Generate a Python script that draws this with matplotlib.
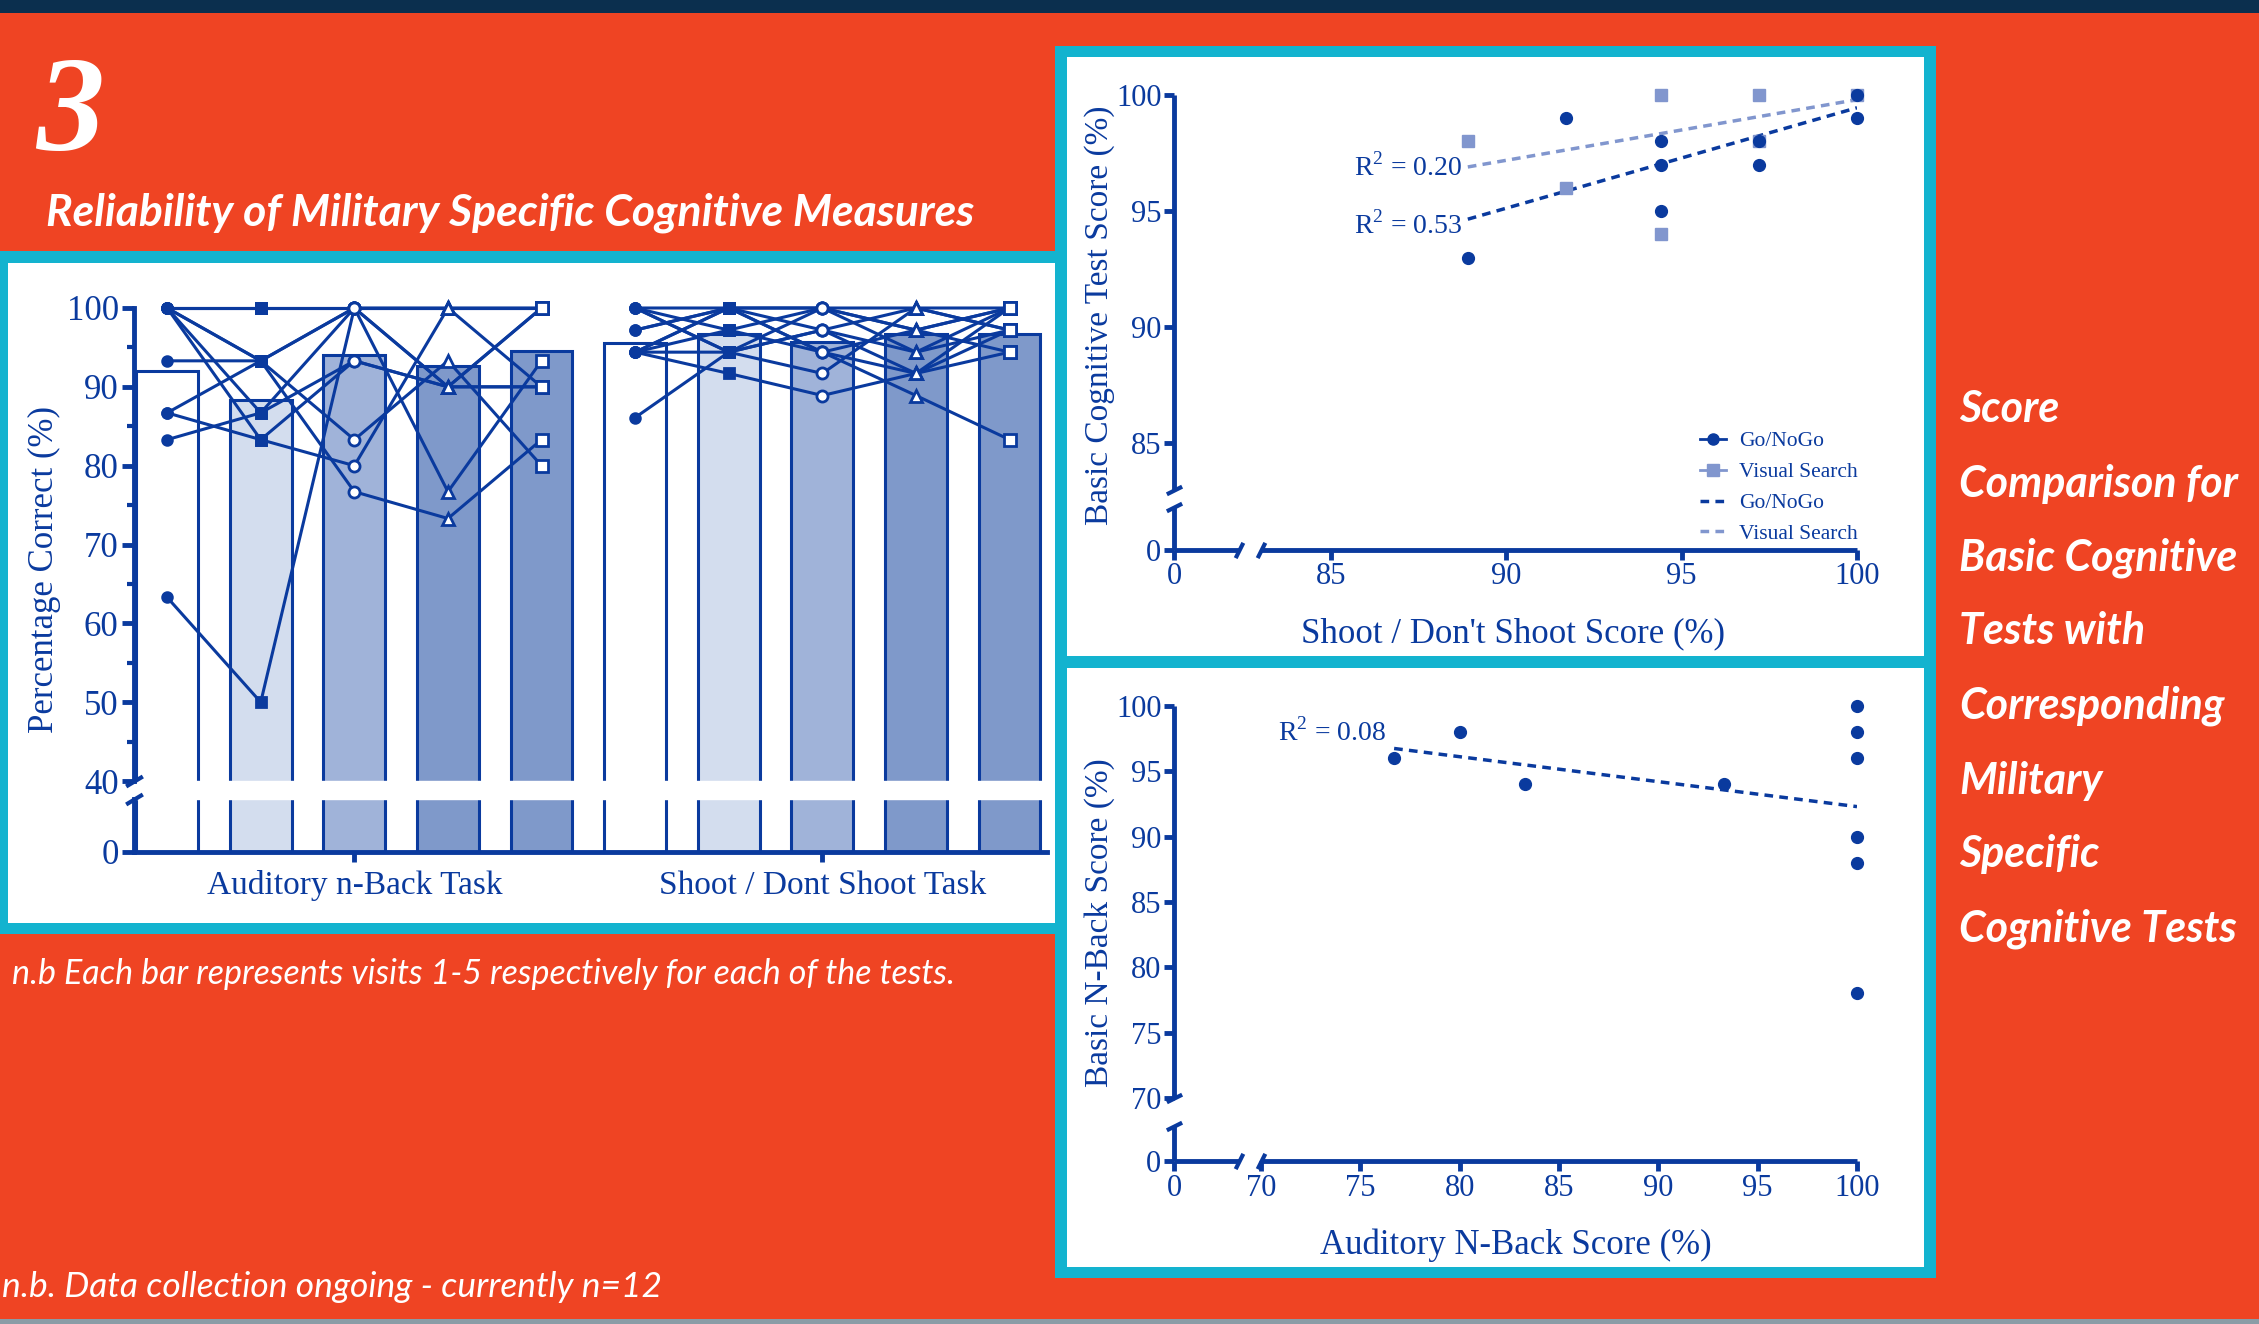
import numpy as np
import matplotlib
matplotlib.use("Agg")
import matplotlib.pyplot as plt
from matplotlib.patches import Rectangle
from matplotlib.lines import Line2D

visit_names = ["Visit 1", "Visit 2", "Visit 3", "Visit 4", "Visit 5"]
task_labels = ["Auditory n-Back Task", "Shoot / Dont Shoot Task"]

# bar heights (mean % correct per visit)
aud_means = [92.0, 88.3, 94.1, 92.7, 94.5]
shoot_means = [95.6, 96.7, 95.7, 96.7, 96.7]

# individual participants, visits 1-5
aud_scores = [
    [100, 100, 100, 100, 100],
    [100, 100, 100, 100, 100],
    [100, 93.3, 100, 90, 90],
    [100, 93.3, 83.3, 93.3, 80],
    [100, 86.7, 100, 90, 100],
    [100, 83.3, 93.3, 90, 90],
    [93.3, 93.3, 76.7, 73.3, 83.3],
    [86.7, 93.3, 100, 100, 90],
    [86.7, 83.3, 80, 100, 100],
    [83.3, 86.7, 93.3, 90, 100],
    [63.3, 50, 100, 76.7, 93.3],
    [100, 100, 100, 100, 100],
]
shoot_scores = [
    [100, 94.4, 100, 97.2, 100],
    [97.2, 100, 100, 100, 97.2],
    [94.4, 100, 94.4, 91.7, 97.2],
    [94.4, 91.7, 88.9, 91.7, 94.4],
    [86.1, 94.4, 97.2, 100, 100],
    [100, 97.2, 94.4, 88.9, 83.3],
    [94.4, 94.4, 91.7, 100, 97.2],
    [97.2, 100, 97.2, 94.4, 100],
    [100, 100, 100, 97.2, 94.4],
    [94.4, 97.2, 100, 94.4, 97.2],
    [100, 94.4, 97.2, 91.7, 100],
    [94.4, 100, 94.4, 97.2, 100],
]

# shoot / don't shoot vs basic tests
gng_x = [88.9, 91.7, 94.4, 94.4, 94.4, 97.2, 97.2, 100, 100]
gng_y = [93, 99, 98, 97, 95, 98, 97, 100, 99]
vs_x = [88.9, 91.7, 94.4, 94.4, 97.2, 97.2, 100]
vs_y = [98, 96, 100, 94, 100, 98, 100]
fit_x = [88.9, 100]
gng_fit = [94.65, 99.45]
vs_fit = [96.9, 99.8]
gng_r2 = "R$^{2}$ = 0.53"
vs_r2 = "R$^{2}$ = 0.20"

# auditory n-back vs basic n-back
nb_x = [76.7, 80, 83.3, 93.3, 100, 100, 100, 100, 100, 100]
nb_y = [96, 98, 94, 94, 100, 98, 96, 90, 88, 78]
nb_fit_x = [76.7, 100]
nb_fit = [96.75, 92.3]
nb_r2 = "R$^{2}$ = 0.08"

right_lines = ["Score", "Comparison for", "Basic Cognitive", "Tests with",
               "Corresponding", "Military", "Specific", "Cognitive Tests"]

# ---- style ----
ORANGE = "#ef4423"
NAVY = "#0b2f4e"
CYAN = "#13b3cf"
BLUE = "#0a3a9e"
LIGHT = "#8196ce"
bar_colors = ["white", "#d3ddee", "#a0b3d9", "#7f99ca", "#7f99ca"]
visit_markers = ["o", "s", "o", "^", "s"]
visit_filled = [True, True, False, False, False]
visit_ms = [7, 7.5, 8, 8.5, 8]

plt.rcParams["font.family"] = "Liberation Serif"
plt.rcParams["mathtext.fontset"] = "custom"
plt.rcParams["mathtext.rm"] = "Liberation Serif"
W, H = 2259, 1324
fig = plt.figure(figsize=(W / 100, H / 100), dpi=100)
fig.patch.set_facecolor(ORANGE)


def frac(x0, y0, x1, y1):
    return [x0 / W, 1 - y1 / H, (x1 - x0) / W, (y1 - y0) / H]


def box(x0, y0, x1, y1, color, z):
    l, b, w, h = frac(x0, y0, x1, y1)
    fig.add_artist(Rectangle((l, b), w, h, transform=fig.transFigure,
                             facecolor=color, edgecolor="none", zorder=z))


def broken(xp, fp):
    xp = np.asarray(xp, float)
    fp = np.asarray(fp, float)
    return (lambda v: np.interp(v, xp, fp)), (lambda v: np.interp(v, fp, xp))


# background blocks
box(0, 0, W, 13, NAVY, -10)
box(0, 1319, W, H, "#8a9ca6", -10)
box(0, 251, 1060, 934, CYAN, -9)
box(8, 263, 1055, 923, "white", -8)
box(1055, 46, 1936, 1278, CYAN, -9)
box(1067, 57, 1924, 656, "white", -8)
box(1067, 668, 1924, 1267, "white", -8)

# ---- left: bars + individual lines ----
ax = fig.add_axes(frac(134, 308, 1047, 852))
ax.set_facecolor("none")
fy, iy = broken([0, 1, 40, 100], [0, 6.72, 9.0, 69.0])
ax.set_yscale("function", functions=(fy, iy))
ax.set_ylim(0, 100)
ax.set_xlim(-0.354, 9.4)

pos_a = np.arange(5)
pos_s = np.arange(5, 10)
for pos, means, scores in [(pos_a, aud_means, aud_scores), (pos_s, shoot_means, shoot_scores)]:
    ax.bar(pos, means, width=0.66, color=bar_colors, edgecolor=BLUE, linewidth=2.2, zorder=2)
    for s in scores:
        ax.plot(pos, s, color=BLUE, lw=2.2, zorder=4, clip_on=False)
    for i in range(5):
        vals = [s[i] for s in scores]
        ax.plot([pos[i]] * len(vals), vals, ls="none", marker=visit_markers[i],
                ms=visit_ms[i], mfc=BLUE if visit_filled[i] else "white",
                mec=BLUE, mew=2, zorder=5, clip_on=False)

ax.axhspan(1, 40, color="white", zorder=3)
for sp in ["left", "top", "right"]:
    ax.spines[sp].set_visible(False)
ax.spines["bottom"].set_color(BLUE)
ax.spines["bottom"].set_linewidth(3.5)
yt = ax.get_yaxis_transform()
for seg in ([0, 1], [40, 100]):
    ax.plot([0, 0], seg, transform=yt, color=BLUE, lw=3.5, clip_on=False, zorder=6)
ax.plot([0, 0], [1, 40], transform=yt, ls="none", marker=[(-1, -0.6), (1, 0.6)],
        ms=12, mec=BLUE, mew=3, clip_on=False, zorder=7)
ax.set_yticks([0, 40, 50, 60, 70, 80, 90, 100])
ax.set_yticks([45, 55, 65, 75, 85, 95], minor=True)
ax.set_xticks([2, 7], task_labels)
ax.tick_params(axis="y", which="major", length=9, width=3.5, color=BLUE,
               labelcolor=BLUE, labelsize=25, pad=2)
ax.tick_params(axis="y", which="minor", length=5, width=3, color=BLUE)
ax.tick_params(axis="x", length=7, width=3.5, color=BLUE, labelcolor=BLUE,
               labelsize=24, pad=6)
ax.set_ylabel("Percentage Correct (%)", color=BLUE, fontsize=25)
ax.yaxis.set_label_coords(-0.08, 0.52)


# ---- right: scatter panels ----
def scatter_axes(rect, xbreak, ybreak, xmap, ymap, xticks, yticks):
    a = fig.add_axes(frac(*rect))
    a.set_facecolor("none")
    a.set_xscale("function", functions=broken([0, 1, xbreak, 100], xmap))
    a.set_yscale("function", functions=broken([0, 1, ybreak, 100], ymap))
    a.set_xlim(0, 100)
    a.set_ylim(0, 100)
    for sp in a.spines.values():
        sp.set_visible(False)
    xt = a.get_xaxis_transform()
    ytr = a.get_yaxis_transform()
    for seg in ([0, 1], [xbreak, 100]):
        a.plot(seg, [0, 0], transform=xt, color=BLUE, lw=3.5, clip_on=False,
               solid_capstyle="butt", zorder=6)
    for seg in ([0, 1], [ybreak, 100]):
        a.plot([0, 0], seg, transform=ytr, color=BLUE, lw=3.5, clip_on=False,
               solid_capstyle="butt", zorder=6)
    a.plot([1, xbreak], [0, 0], transform=xt, ls="none", marker=[(-0.5, -1), (0.5, 1)],
           ms=11, mec=BLUE, mew=3, clip_on=False, zorder=7)
    a.plot([0, 0], [1, ybreak], transform=ytr, ls="none", marker=[(-1, -0.5), (1, 0.5)],
           ms=11, mec=BLUE, mew=3, clip_on=False, zorder=7)
    a.set_xticks(xticks)
    a.set_yticks(yticks)
    a.tick_params(length=7, width=3.5, color=BLUE, labelcolor=BLUE, labelsize=22, pad=2)
    return a


ax2 = scatter_axes((1174, 95, 1857, 550), 83, 83,
                   [0, 1.85, 2.48, 19.48], [0, 1.86, 2.60, 19.60],
                   [0, 85, 90, 95, 100], [0, 85, 90, 95, 100])
ax2.plot(vs_x, vs_y, ls="none", marker="s", ms=8.5, color=LIGHT, clip_on=False, zorder=3)
ax2.plot(gng_x, gng_y, ls="none", marker="o", ms=8.5, color=BLUE, clip_on=False, zorder=4)
ax2.plot(fit_x, vs_fit, color=LIGHT, lw=2.5, dashes=(2.5, 1.8), zorder=2)
ax2.plot(fit_x, gng_fit, color=BLUE, lw=2.5, dashes=(2.5, 1.8), zorder=2)
ax2.text(88.75, vs_fit[0], vs_r2, ha="right", va="center", color=BLUE, fontsize=20)
ax2.text(88.75, gng_fit[0] - 0.25, gng_r2, ha="right", va="center", color=BLUE, fontsize=20)
handles = [
    Line2D([], [], color=BLUE, marker="o", ms=8, lw=2),
    Line2D([], [], color=LIGHT, marker="s", ms=8, lw=2),
    Line2D([], [], color=BLUE, lw=2.5, dashes=(2.5, 1.8)),
    Line2D([], [], color=LIGHT, lw=2.5, dashes=(2.5, 1.8)),
]
ax2.legend(handles, ["Go/NoGo", "Visual Search", "Go/NoGo", "Visual Search"],
           loc="lower right", bbox_to_anchor=(1.02, -0.015), frameon=False, fontsize=15.5,
           labelcolor=BLUE, handlelength=1.2, handletextpad=0.6, labelspacing=0.5,
           borderaxespad=0.2)
ax2.set_xlabel("Shoot / Don't Shoot Score (%)", color=BLUE, fontsize=25)
ax2.set_ylabel("Basic Cognitive Test Score (%)", color=BLUE, fontsize=24)
ax2.xaxis.set_label_coords(0.496, -0.148)
ax2.yaxis.set_label_coords(-0.086, 0.516)

ax3 = scatter_axes((1174, 706, 1857, 1161), 70, 70,
                   [0, 3.27, 4.38, 34.38], [0, 2.68, 4.82, 34.82],
                   [0, 70, 75, 80, 85, 90, 95, 100], [0, 70, 75, 80, 85, 90, 95, 100])
ax3.plot(nb_x, nb_y, ls="none", marker="o", ms=8.5, color=BLUE, clip_on=False, zorder=4)
ax3.plot(nb_fit_x, nb_fit, color=BLUE, lw=2.5, dashes=(2.5, 1.8), zorder=2)
ax3.text(76.3, 98.0, nb_r2, ha="right", va="center", color=BLUE, fontsize=20)
ax3.set_xlabel("Auditory N-Back Score (%)", color=BLUE, fontsize=25)
ax3.set_ylabel("Basic N-Back Score (%)", color=BLUE, fontsize=24)
ax3.xaxis.set_label_coords(0.50, -0.148)
ax3.yaxis.set_label_coords(-0.086, 0.523)

# ---- poster text ----
fig.text(36 / W, 1 - 150 / H, "3", color="white", fontsize=98, fontweight="bold",
         fontstyle="italic", family="Liberation Serif", va="baseline", ha="left")
fig.text(46 / W, 1 - 213 / H, "Reliability of Military Specific Cognitive Measures",
         color="white", fontsize=32, fontweight="bold", fontstyle="italic",
         family="Lato", va="center", ha="left")
line_y = [409, 484, 558, 631, 706, 781, 854, 929]
for txt, yy in zip(right_lines, line_y):
    fig.text(1959 / W, 1 - yy / H, txt, color="white", fontsize=31, fontweight="bold",
             fontstyle="italic", family="Lato", va="center", ha="left")
fig.text(12 / W, 1 - 974 / H,
         "n.b Each bar represents visits 1-5 respectively for each of the tests.",
         color="white", fontsize=24.5, fontstyle="italic", family="Lato",
         va="center", ha="left")
fig.text(2 / W, 1 - 1287 / H, "n.b. Data collection ongoing - currently n=12",
         color="white", fontsize=25.5, fontstyle="italic", family="Lato",
         va="center", ha="left")

fig.savefig("out.png", dpi=100, facecolor=ORANGE)
